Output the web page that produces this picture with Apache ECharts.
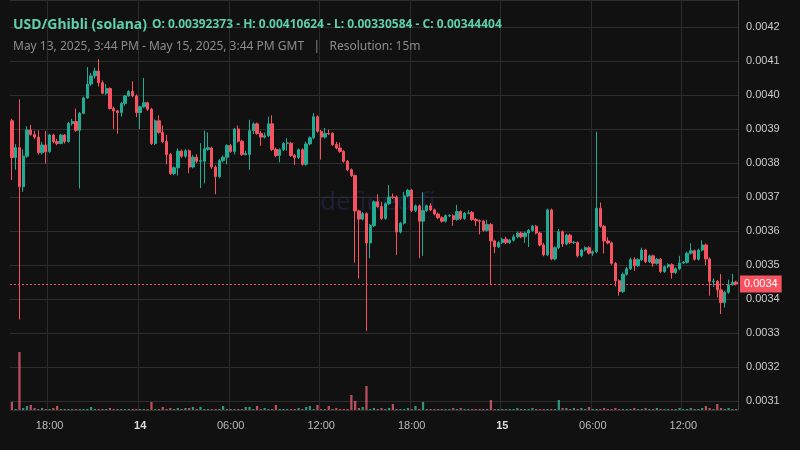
<!DOCTYPE html>
<html>
<head>
<meta charset="utf-8">
<script src="https://cdn.jsdelivr.net/npm/echarts@6/dist/echarts.min.js"></script>
<style>html,body{margin:0;background:#111111}#chart{width:800px;height:450px}</style>
</head>
<body>
<div id="chart"></div>
<script>
// prices in units of 0.00001; rows are [open, close, low, high]
var candles = [
[392.4,381.6,375,393],[381.6,384.5,378,385.5],[384.5,373,334,398.7],[373,382,371.5,384],[382,389.7,381.5,390.8],
[389.7,388.4,388,391.2],[388.4,387.6,387,389.5],[387.6,383,382.5,389.6],[383,385.3,382.5,386.2],[385.3,383.3,379.8,389.4],
[383.3,388.2,383,388.6],[388.2,386.3,385.8,388.6],[386.3,385.7,385.2,387.1],[385.7,388.2,385.5,388.5],[388.2,386.3,385.7,388.5],
[386.3,391.6,386,392.1],[391.6,392.2,391,393],[392.2,389.6,389.2,396],[389.6,394.6,372.5,395],[394.6,399.1,394.3,399.5],
[399.1,403.2,398.8,408.2],[403.2,405.6,402.6,406.5],[405.6,407,404.8,408],[407,403.6,402.5,410.5],[403.6,400.5,400.2,404.3],
[400.5,401.9,400,403.2],[401.9,396,395.7,402.2],[396,395.3,390,396.6],[395.3,394.8,388.6,395.6],[394.8,397.5,393.6,397.9],
[397.5,399.7,396.8,400],[399.7,401,399.5,401.4],[401,399.7,399.3,404],[399.7,394.8,393.5,400.2],[394.8,396.5,390,396.8],
[396.5,397.7,396.2,405],[397.7,395.8,395.3,398],[395.8,385.7,385.3,396.2],[385.7,392.4,385.3,392.8],[392.4,389,388.6,394],
[389,386.3,385.8,391],[386.3,382.5,379.6,388.3],[382.5,376.9,376.5,383],[376.9,378.6,376.4,379],[378.6,383.5,376.3,384.3],
[383.5,382,381.5,384],[382,383.6,381.5,384],[383.6,378.8,377,384],[378.8,381.7,378.4,382.4],[381.7,380.5,380,382.6],
[380.5,380.7,372.6,385.8],[380.5,384.2,374,389.5],[384,384.5,383.6,389],[384.4,378.8,378.3,384.8],[378.8,376,370.8,379.3],
[376,380.7,375.5,381.2],[380.7,381.7,380.2,382.2],[381.7,385.1,379.6,385.5],[385.1,383.4,383,385.6],[383.4,390,382.5,390.3],
[390,386.4,386,391],[386.4,382.5,382.1,386.8],[382.5,382.8,382.2,383.6],[382.5,389.5,378,392.7],[389.5,391.5,388.5,391.9],
[391.5,388.7,388.3,391.9],[388.7,387.6,385,389.4],[387.6,388,387.2,388.9],[388,391.5,387.6,393.6],[391.5,384,383.5,394],
[384,382.2,381.8,384.5],[382.2,383.9,380.2,384.3],[383.9,385.8,383.5,386.1],[385.8,385.9,383.6,387.3],[385.8,382.2,381.8,386.2],
[382.2,381.6,379.4,382.6],[381.6,383.9,381.2,384.3],[383.9,379.6,379.2,384.3],[379.6,385.6,379.2,386.2],[385.6,387.4,385.2,387.8],
[387.4,393.6,387,394.7],[393.6,389.3,388.9,394],[389.3,387.6,381,389.7],[387.6,388.7,387.2,390.3],[388.7,388.6,388.2,389.8],
[388.7,385.4,385,389],[385.4,384.4,384,386.2],[384.4,383.4,383,386],[383.4,380.5,380.1,383.8],[380.5,378,377.6,380.9],
[378,376.3,375.9,378.4],[376.3,365.9,350.7,376.6],[365.9,363.5,346,366.3],[363.5,365.1,363.1,365.6],[365.1,356.5,330.6,365.5],
[356.5,361.7,352,362.1],[361.6,368.6,361.2,369],[368.6,367.2,366.8,370.8],[367.2,363.7,363.3,368.6],[363.7,368,363.3,368.4],
[368,370,367.6,373.5],[370,369.9,369.5,371],[370,359.7,353,370.4],[359.7,362.3,359.3,362.7],[362.3,370.3,361.9,371.5],
[370.3,372,370,372.4],[372,366,365.6,372.4],[366,367.4,365.6,367.8],[367.4,362.9,352,367.8],[362.9,366,352.7,371.4],
[366,367.4,365.6,367.8],[367.4,366.2,365.8,368.2],[366.2,365,364.6,366.6],[365,363.9,363.5,365.4],[363.9,362.9,362.5,364.3],
[362.9,364.5,362.5,364.9],[364.5,364.6,364.1,364.9],[364.5,363.4,361.5,364.9],[363.4,365.7,363,367.7],[365.7,363.7,363.3,366.1],
[363.7,365.2,363.3,365.6],[365.2,365.3,364.9,366.1],[365.5,363.4,363,365.9],[363.4,363,361.5,363.8],[363,362.9,359,363.4],
[362.9,360.2,359.8,363.3],[360.2,361.9,359.8,363.3],[361.9,357.1,344.3,362.3],[357.1,355.4,353.5,357.5],[355.4,356.6,355,357],
[356.6,357.6,356.2,358],[357.6,356.6,356.2,358.3],[356.6,357.3,356.2,357.7],[357.3,358.3,356.9,359],[358.3,359.4,357.9,359.8],
[359.4,358.3,357.9,359.8],[358.3,359.4,356.5,359.8],[359.4,360.2,355.3,360.6],[360.2,361.4,359.8,361.8],[361.4,359.4,359,361.8],
[359.4,355.9,355.5,359.8],[355.9,353,352.6,356.5],[353,366.2,352.6,366.6],[366.2,351.8,351.4,366.6],[351.8,355.1,351.4,355.5],
[355.1,359.8,354.7,360.6],[359.8,356.2,355.3,360.2],[356.2,358.8,355.8,359.2],[358.8,356.6,356.2,359.2],[356.6,356.7,356.2,357.1],
[356.6,352.7,352.2,357],[352.7,354.4,352.3,354.8],[354.4,355.1,354,355.5],[355.1,353.5,353.1,355.5],[353.5,353.9,352.7,354.3],
[353.9,366.7,353.5,389.2],[366.7,361.4,361,368.4],[361.4,357.1,353.4,361.8],[357.1,356.5,356.1,358.2],[356.5,350.5,350.1,356.9],
[350.5,345.4,343.7,350.9],[345.4,342.2,341,345.8],[342.2,347.3,341.8,347.8],[347.3,348.9,346.9,349.5],[348.9,351.6,348.5,352.2],
[351.6,349.8,348.3,352.3],[349.8,351.6,349.4,352],[351.6,354.4,351.2,355.1],[354.4,351,350.6,354.8],[351,352.7,350.6,353.1],
[352.7,350.5,349.5,353.1],[350.5,351.7,350.1,352.1],[351.7,348.1,347.7,352.1],[348.1,349.5,347.7,349.9],[349.5,350.1,349.1,350.5],
[350.1,347.8,346,350.5],[347.8,348.9,347.4,349.3],[348.9,350.6,348.5,352.7],[350.6,350.8,350.3,351.2],[350.8,353.5,350.4,353.9],
[353.5,354.2,353.1,356.4],[354.2,351.7,351.3,354.6],[351.7,354.4,351.3,354.8],[354.4,355.9,354,357.3],[355.9,351.8,350,356.3],
[351.8,345.2,341,352.2],[345.2,345.3,343.6,346.1],[345.2,342.7,340.5,345.6],[342.7,339,335.6,347.4],[339,342,337.5,342.4],
[342,344.2,341.6,345.7],[344.2,345,343.9,347.4],[345,344.4,344,345.4]
];
var volumes = [
8,1,58,2,4,5,2,1,2,1,1,2,4,1,1,1,1,1,1,1,1,3,1,1,1,1,2,1,1,1,
1,1,1,1,1,1,1,8,1,1,3,1,2,1,2,1,2,2,3,1,3,1,1,1,1,1,4,1,1,1,
1,1,3,3,1,4,1,2,1,1,5,1,1,1,1,1,2,1,3,4,1,5,1,1,4,1,2,1,1,1,
15,9,2,3,24,1,2,1,2,1,2,6,1,1,1,2,1,4,1,8,1,1,1,1,1,1,1,2,1,2,
1,1,1,1,1,1,1,10,1,1,1,1,1,1,2,1,1,1,2,1,1,1,1,1,1,10,2,2,1,2,
1,2,1,3,1,1,1,2,1,1,2,1,1,1,1,2,1,1,2,1,1,2,1,1,1,1,1,2,1,1,
2,1,1,2,4,2,1,6,2,1,2,1,1
];
var lastClose = 344.404;
var startTime = Date.UTC(2025, 4, 13, 15, 30);

var times = candles.map(function (c, i) { return startTime + i * 15 * 60000; });
var volData = volumes.map(function (v, i) {
    return { value: v, itemStyle: { color: candles[i][1] >= candles[i][0] ? 'rgba(60,190,160,0.75)' : 'rgba(240,100,120,0.75)' } };
});
function isMajor(idx) {
    var d = new Date(times[idx]);
    return d.getUTCMinutes() === 0 && d.getUTCHours() % 6 === 0;
}

var myChart = echarts.init(document.getElementById('chart'));
myChart.setOption({
    backgroundColor: '#111111',
    animation: false,
    title: {
        left: 8, top: 11,
        text: '{a|USD/Ghibli (solana)} {b|O: 0.00392373 - H: 0.00410624 - L: 0.00330584 - C: 0.00344404}',
        subtext: 'May 13, 2025, 3:44 PM - May 15, 2025, 3:44 PM GMT   |   Resolution: 15m',
        itemGap: 7,
        textStyle: {
            rich: {
                a: { fontFamily: 'Noto Sans', fontSize: 14, color: '#5fd0ac' },
                b: { fontFamily: 'Noto Sans', fontSize: 12, color: '#5fd0ac' }
            }
        },
        subtextStyle: { fontFamily: 'Noto Sans', fontSize: 12, color: '#8c8c8c' }
    },
    graphic: [{
        type: 'text', left: 320, top: 190, z: -1,
        style: { text: 'defined.fi', fontSize: 26, fontFamily: 'Noto Sans', fill: '#1d1e35' }
    }],
    grid: [
        { left: 10, right: 62, top: 0, bottom: 40 },
        { left: 10, right: 62, top: 350, bottom: 40 }
    ],
    xAxis: [{
        type: 'category', data: times, gridIndex: 0,
        axisLine: { show: false }, axisTick: { show: false },
        axisLabel: {
            interval: function (idx) { return isMajor(idx); },
            color: '#bbbbbb', fontSize: 11, margin: 10,
            formatter: function (v) {
                var d = new Date(+v);
                var h = d.getUTCHours();
                if (h === 0) return '{d|' + d.getUTCDate() + '}';
                return (h < 10 ? '0' : '') + h + ':00';
            },
            rich: { d: { fontWeight: 'bold', color: '#dddddd', fontSize: 11 } }
        },
        splitLine: { show: true, interval: function (idx) { return isMajor(idx); }, lineStyle: { color: '#2b2b2b' } }
    }, {
        type: 'category', data: times, gridIndex: 1, show: false
    }],
    yAxis: [{
        type: 'value', position: 'right', min: 307.4, max: 427.9, splitNumber: 12,
        axisLine: { show: true, lineStyle: { color: '#3a3a3a' } },
        axisTick: { show: false },
        axisLabel: {
            showMinLabel: false, showMaxLabel: false, color: '#cccccc', fontSize: 11, margin: 8,
            formatter: function (v) { return (v / 1e5).toFixed(4); }
        },
        splitLine: { lineStyle: { color: '#2e2e2e' } }
    }, {
        type: 'value', gridIndex: 1, min: 0, max: 60, show: false
    }],
    series: [{
        type: 'bar', xAxisIndex: 1, yAxisIndex: 1, data: volData, barWidth: '60%', z: 1
    }, {
        type: 'candlestick', data: candles, barWidth: '75%', z: 3,
        itemStyle: { color: '#22ab94', color0: '#f7525f', borderColor: '#22ab94', borderColor0: '#f7525f', borderWidth: 1 },
        markLine: {
            symbol: 'none', silent: true,
            data: [{ yAxis: lastClose }],
            lineStyle: { color: '#f7525f', type: [2, 2], width: 1 },
            label: {
                position: 'end', distance: 2, formatter: function (p) { return (p.value / 1e5).toFixed(4); },
                color: '#ffffff', backgroundColor: '#f7525f', padding: [3, 4], fontSize: 11
            }
        }
    }]
});
</script>
</body>
</html>
